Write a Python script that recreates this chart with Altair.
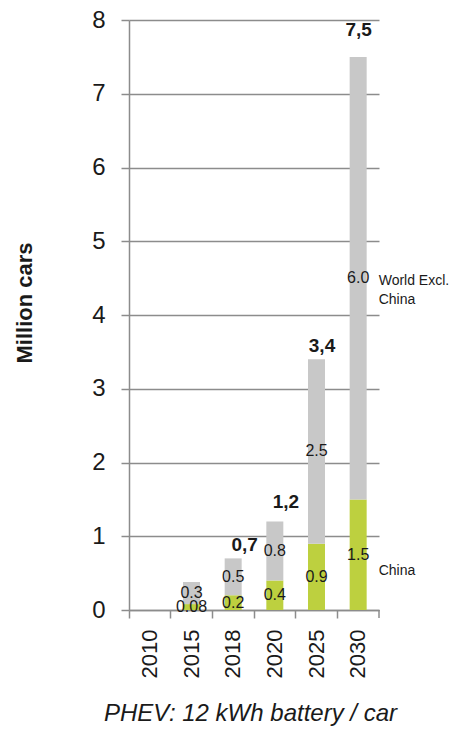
import altair as alt
import pandas as pd

# ---- data ----
years = ["2010", "2015", "2018", "2020", "2025", "2030"]
china = [0, 0.08, 0.2, 0.4, 0.9, 1.5]
world_excl_china = [0, 0.3, 0.5, 0.8, 2.5, 6.0]
series_names = ["China", "World Excl. China"]
total_years = ["2018", "2020", "2025", "2030"]
y_ticks = [0, 1, 2, 3, 4, 5, 6, 7, 8]

# ---- styling / layout ----
W, H = 250, 590
LEFT, TOP = 129, 20
RIGHT = 452 - LEFT - W
BOTTOM = 731 - TOP - H
GREEN = "#bdd03f"
GRAY = "#c8c8c8"
AXIS = "#8c8c8c"
TXT = "#1a1a1a"
FONT = "Liberation Sans"
total_dx = [11.5, 11, 5.5, 0.5]
total_dy = [-13.5, -20, -13.5, -27]

rows = []
for yr, c, w in zip(years, china, world_excl_china):
    rows.append(dict(year=yr, series=series_names[0], low=0.0, high=c, value=c))
    rows.append(dict(year=yr, series=series_names[1], low=c, high=c + w, value=w))
df = pd.DataFrame(rows)
df["mid"] = (df["low"] + df["high"]) / 2
df["label"] = df["value"].map(lambda v: str(v) if v > 0 else "")

tot = pd.DataFrame({"year": years,
                    "total": [c + w for c, w in zip(china, world_excl_china)]})
tot["label"] = tot["total"].map(lambda v: f"{v:.1f}".replace(".", ","))

x_enc = alt.X(
    "year:N", sort=years,
    scale=alt.Scale(paddingInner=0, paddingOuter=0),
    axis=alt.Axis(
        title="PHEV: 12 kWh battery / car", grid=False, tickSize=8,
        bandPosition=0, labelAngle=270, labelAlign="right",
        labelBaseline="middle", labelPadding=11, labelFontSize=22,
        titleFontStyle="italic", titleFontWeight="normal", titleFontSize=24,
        titleX=121, titleY=103, titleAlign="center", titleBaseline="middle",
    ),
)
y_scale = alt.Scale(domain=[0, 8], nice=False, zero=True)
y_axis = alt.Axis(
    title="Million cars", values=y_ticks, grid=True, tickSize=8,
    labelPadding=16, labelFontSize=24, format="d",
    titleFontSize=22, titleFontWeight="bold",
    titleAngle=270, titleX=-105, titleY=282.5, titleAlign="center",
    titleBaseline="middle",
)

bars = alt.Chart(df).mark_bar(size=17).encode(
    x=x_enc,
    y=alt.Y("low:Q", scale=y_scale, axis=y_axis),
    y2="high:Q",
    color=alt.Color("series:N", scale=alt.Scale(domain=series_names, range=[GREEN, GRAY]),
                    legend=None),
)

seg_labels = alt.Chart(df).transform_filter("datum.label != ''").mark_text(
    font=FONT, fontSize=16, color=TXT, align="center", baseline="middle"
).encode(
    x=x_enc,
    y=alt.Y("mid:Q", scale=y_scale, axis=y_axis),
    text="label:N",
)

layers = [bars, seg_labels]

for yr, dx, dy in zip(total_years, total_dx, total_dy):
    layers.append(
        alt.Chart(tot).transform_filter(alt.datum.year == yr).mark_text(
            font=FONT, fontSize=19, fontWeight="bold", color=TXT,
            align="center", baseline="middle", dx=dx, dy=dy,
        ).encode(
            x=x_enc,
            y=alt.Y("total:Q", scale=y_scale, axis=y_axis),
            text="label:N",
        )
    )

last = years[-1]
world_name = alt.Chart(df).transform_filter(
    (alt.datum.year == last) & (alt.datum.series == series_names[1])
).mark_text(
    font=FONT, fontSize=14, color=TXT, align="left", baseline="middle",
    dx=20.5, dy=3, lineHeight=19, text=["World Excl.", "China"],
).encode(x=x_enc, y=alt.Y("mid:Q", scale=y_scale, axis=y_axis))

china_name = alt.Chart(df).transform_filter(
    (alt.datum.year == last) & (alt.datum.series == series_names[0])
).mark_text(
    font=FONT, fontSize=14, color=TXT, align="left", baseline="middle",
    dx=20.5, dy=16.5, text="China",
).encode(x=x_enc, y=alt.Y("mid:Q", scale=y_scale, axis=y_axis))

end_tick = alt.Chart(pd.DataFrame({"a": [0]})).mark_rule(
    color=AXIS, strokeWidth=1.5
).encode(x=alt.value(W), y=alt.value(H), y2=alt.value(H + 8))

layers += [world_name, china_name, end_tick]

chart = alt.layer(*layers).properties(
    width=W, height=H,
    padding={"left": LEFT, "top": TOP, "right": RIGHT, "bottom": BOTTOM},
    autosize=alt.AutoSizeParams(type="none"),
    background="white",
).configure_view(stroke=None).configure_axis(
    domainColor=AXIS, tickColor=AXIS, gridColor=AXIS,
    domainWidth=1.5, tickWidth=1.5, gridWidth=1.5,
    labelFont=FONT, titleFont=FONT, labelColor=TXT, titleColor=TXT,
)

chart.save("out.html", embed_options={"renderer": "svg", "actions": False})
